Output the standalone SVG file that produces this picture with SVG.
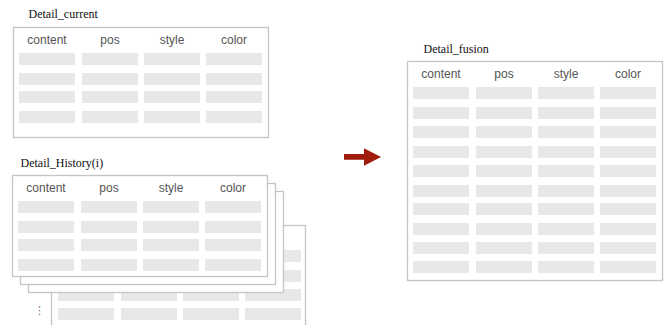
<svg xmlns="http://www.w3.org/2000/svg" width="668" height="325" viewBox="0 0 668 325">
<defs>
<style>
.box{fill:#fff;stroke:#c4c4c4;stroke-width:1.3}
.cell{fill:#e8e8e8}
.hd{font-family:"Liberation Sans",Arial,sans-serif;font-size:12px;fill:#555;text-anchor:middle}
.title{font-family:"Liberation Serif","Times New Roman",serif;font-size:12px;fill:#111}
</style>
<g id="cells4">
<rect class="cell" x="0" y="0" width="56" height="12"/>
<rect class="cell" x="63" y="0" width="56" height="12"/>
<rect class="cell" x="125" y="0" width="56" height="12"/>
<rect class="cell" x="187" y="0" width="56" height="12"/>
</g>
<g id="hdr">
<text class="hd" x="28" y="0">content</text>
<text class="hd" x="91" y="0">pos</text>
<text class="hd" x="153" y="0">style</text>
<text class="hd" x="215" y="0">color</text>
</g>
</defs>

<g id="detail_current">
<text class="title" x="28.5" y="18">Detail_current</text>
<rect class="box" x="13.5" y="27.5" width="255" height="110"/>
<use href="#hdr" x="19" y="44"/>
<use href="#cells4" x="19" y="53"/>
<use href="#cells4" x="19" y="73"/>
<use href="#cells4" x="19" y="91"/>
<use href="#cells4" x="19" y="111"/>
</g>

<g id="detail_history">
<text class="title" x="20.5" y="166.5">Detail_History(i)</text>
<rect class="box" x="51.5" y="225.5" width="254" height="120"/>
<use href="#cells4" x="58" y="250"/>
<use href="#cells4" x="58" y="270"/>
<use href="#cells4" x="58" y="289"/>
<use href="#cells4" x="58" y="308"/>
<text x="39.5" y="314" style="font-family:'DejaVu Sans',sans-serif;font-size:11px;fill:#666;text-anchor:middle">⋮</text>
<rect class="box" x="28.5" y="191.5" width="255" height="101"/>
<rect class="box" x="20.5" y="183.5" width="255" height="101"/>
<rect class="box" x="12.5" y="175.5" width="255" height="101"/>
<use href="#hdr" x="18" y="191.5"/>
<use href="#cells4" x="18" y="201"/>
<use href="#cells4" x="18" y="221"/>
<use href="#cells4" x="18" y="239"/>
<use href="#cells4" x="18" y="259"/>
</g>

<g id="connectors">
<path d="M344 154 H364 V148.3 L381 157 L364 165.7 V159.8 H344 Z" fill="#a01c0c"/>
</g>

<g id="detail_fusion">
<text class="title" x="423.5" y="52.5">Detail_fusion</text>
<rect class="box" x="407.5" y="61.5" width="255" height="219"/>
<use href="#hdr" x="413" y="77.5"/>
<use href="#cells4" x="413" y="87"/>
<use href="#cells4" x="413" y="107"/>
<use href="#cells4" x="413" y="126"/>
<use href="#cells4" x="413" y="146"/>
<use href="#cells4" x="413" y="165"/>
<use href="#cells4" x="413" y="185"/>
<use href="#cells4" x="413" y="203"/>
<use href="#cells4" x="413" y="223"/>
<use href="#cells4" x="413" y="242"/>
<use href="#cells4" x="413" y="261"/>
</g>
</svg>
